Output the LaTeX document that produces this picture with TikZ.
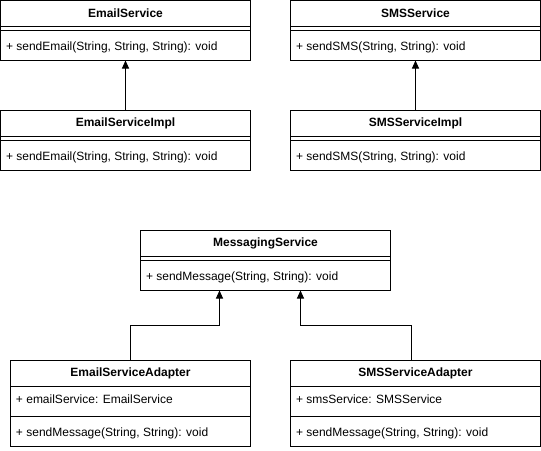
\documentclass[tikz,border=0pt]{standalone}
\usepackage{fontspec}
\setmainfont{Liberation Sans}
\usetikzlibrary{arrows.meta}
\tikzset{
  cbox/.style={draw, rectangle, anchor=north west, inner sep=0pt, outer sep=0pt, minimum width=#1},
  ctitle/.style={font=\fontsize{12}{14}\selectfont\bfseries, inner sep=0pt},
  cmember/.style={font=\fontsize{12}{14}\selectfont, anchor=west, inner sep=0pt},
  arr/.style={-{Triangle[length=8pt,width=7pt]}},
}
\begin{document}
\begin{tikzpicture}[x=1pt,y=-1pt,line width=1pt]
\useasboundingbox (0,0) rectangle (541,450);
% EmailService
\node[cbox=250pt, minimum height=60pt] (es) at (0.5,0.5) {};
\draw ([yshift=-26pt]es.north west) -- ([yshift=-26pt]es.north east);
\draw ([yshift=-30pt]es.north west) -- ([yshift=-30pt]es.north east);
\node[ctitle] (esT) at ([yshift=-13pt]es.north) {EmailService};
\node[cmember] (esM) at ([yshift=-47pt,xshift=5pt]es.north west) {+ sendEmail(String, String, String): void};
% EmailServiceImpl
\node[cbox=250pt, minimum height=60pt] (esi) at (0.5,110.5) {};
\draw ([yshift=-26pt]esi.north west) -- ([yshift=-26pt]esi.north east);
\draw ([yshift=-30pt]esi.north west) -- ([yshift=-30pt]esi.north east);
\node[ctitle] (esiT) at ([yshift=-13pt]esi.north) {EmailServiceImpl};
\node[cmember] (esiM) at ([yshift=-47pt,xshift=5pt]esi.north west) {+ sendEmail(String, String, String): void};
% SMSService
\node[cbox=250pt, minimum height=60pt] (ss) at (290.5,0.5) {};
\draw ([yshift=-26pt]ss.north west) -- ([yshift=-26pt]ss.north east);
\draw ([yshift=-30pt]ss.north west) -- ([yshift=-30pt]ss.north east);
\node[ctitle] (ssT) at ([yshift=-13pt]ss.north) {SMSService};
\node[cmember] (ssM) at ([yshift=-47pt,xshift=5pt]ss.north west) {+ sendSMS(String, String): void};
% SMSServiceImpl
\node[cbox=250pt, minimum height=60pt] (ssi) at (290.5,110.5) {};
\draw ([yshift=-26pt]ssi.north west) -- ([yshift=-26pt]ssi.north east);
\draw ([yshift=-30pt]ssi.north west) -- ([yshift=-30pt]ssi.north east);
\node[ctitle] (ssiT) at ([yshift=-13pt]ssi.north) {SMSServiceImpl};
\node[cmember] (ssiM) at ([yshift=-47pt,xshift=5pt]ssi.north west) {+ sendSMS(String, String): void};
% MessagingService
\node[cbox=250pt, minimum height=60pt] (ms) at (140.5,230.5) {};
\draw ([yshift=-26pt]ms.north west) -- ([yshift=-26pt]ms.north east);
\draw ([yshift=-30pt]ms.north west) -- ([yshift=-30pt]ms.north east);
\node[ctitle] (msT) at ([yshift=-13pt]ms.north) {MessagingService};
\node[cmember] (msM) at ([yshift=-47pt,xshift=5pt]ms.north west) {+ sendMessage(String, String): void};
% EmailServiceAdapter
\node[cbox=240pt, minimum height=86pt] (esa) at (10.5,360.5) {};
\draw ([yshift=-26pt]esa.north west) -- ([yshift=-26pt]esa.north east);
\draw ([yshift=-56pt]esa.north west) -- ([yshift=-56pt]esa.north east);
\node[ctitle] (esaT) at ([yshift=-13pt]esa.north) {EmailServiceAdapter};
\node[cmember] (esaA) at ([yshift=-39pt,xshift=5pt]esa.north west) {+ emailService: EmailService};
\node[cmember] (esaM) at ([yshift=-73pt,xshift=5pt]esa.north west) {+ sendMessage(String, String): void};
% SMSServiceAdapter
\node[cbox=250pt, minimum height=86pt] (ssa) at (290.5,360.5) {};
\draw ([yshift=-26pt]ssa.north west) -- ([yshift=-26pt]ssa.north east);
\draw ([yshift=-56pt]ssa.north west) -- ([yshift=-56pt]ssa.north east);
\node[ctitle] (ssaT) at ([yshift=-13pt]ssa.north) {SMSServiceAdapter};
\node[cmember] (ssaA) at ([yshift=-39pt,xshift=5pt]ssa.north west) {+ smsService: SMSService};
\node[cmember] (ssaM) at ([yshift=-73pt,xshift=5pt]ssa.north west) {+ sendMessage(String, String): void};
% connectors
\draw[arr] (esi.north) -- (es.south);
\draw[arr] (ssi.north) -- (ss.south);
\draw[arr] (esa.north) -- ++(0,-35) -| ([xshift=-46pt]ms.south);
\draw[arr] ([xshift=-4pt]ssa.north) -- ++(0,-35) -| ([xshift=35pt]ms.south);
\end{tikzpicture}
\end{document}
